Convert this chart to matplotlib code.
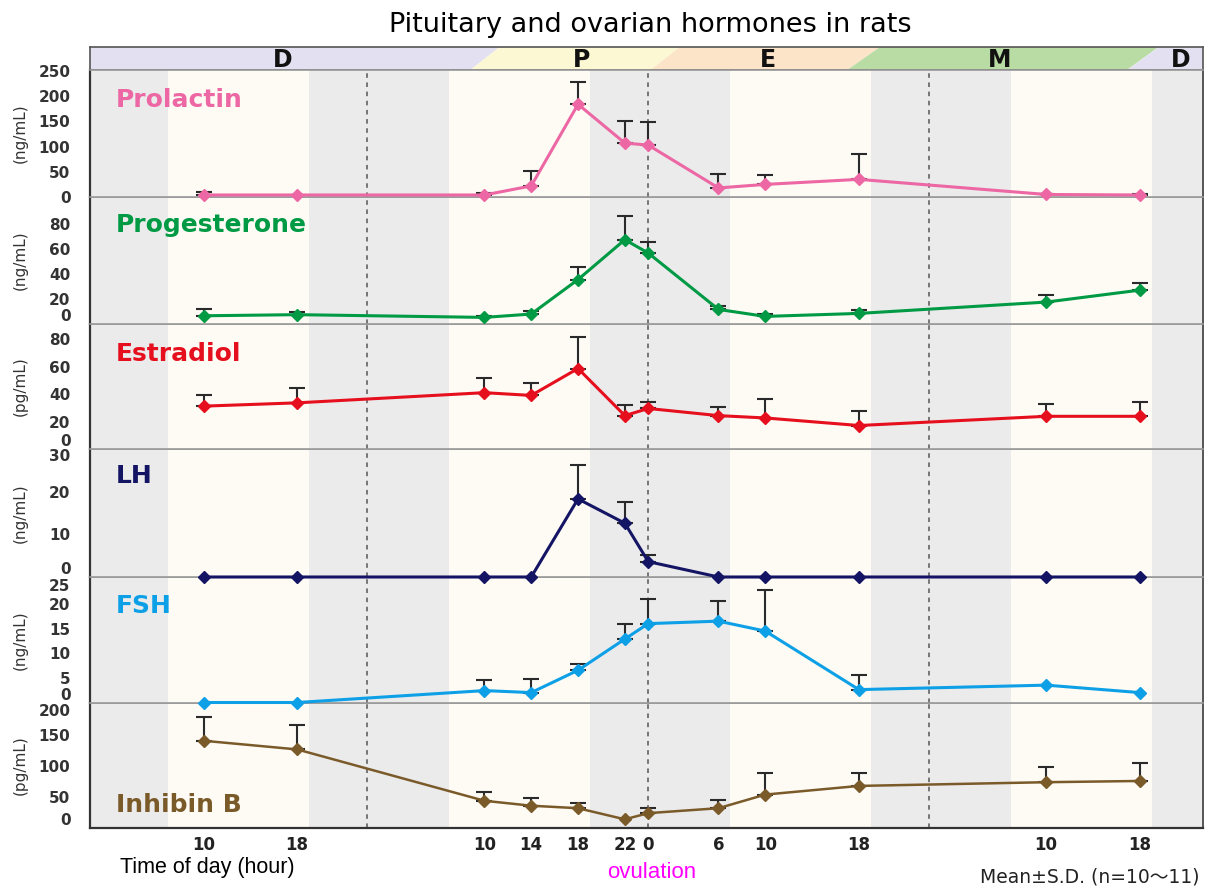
import numpy as np
import matplotlib.pyplot as plt
from matplotlib.patches import Polygon

# sampling times, hours counted from 0:00 of the first diestrus day
hours = [10, 18, 34, 38, 42, 46, 48, 54, 58, 66, 82, 90]
hour_labels = ['10', '18', '10', '14', '18', '22', '0', '6', '10', '18', '10', '18']

prolactin = [4, 4, 4, 22, 184, 107, 103, 18, 25, 35, 5, 4]
prolactin_sd = [5, 0, 3, 29, 44, 44, 46, 27, 18, 51, 1, 1]
progesterone = [6.6, 7.5, 5.3, 8, 35.7, 67.7, 57, 11.7, 6.1, 8.5, 17.6, 27.2]
progesterone_sd = [5.7, 2.4, 1.4, 2.7, 10.3, 19.3, 9, 3, 1.9, 2.7, 5.4, 5.8]
estradiol = [31.2, 33.6, 41, 39, 58.6, 24.3, 29.5, 24.3, 22.6, 17.1, 23.8, 23.8]
estradiol_sd = [8.4, 10.6, 11, 9, 23.1, 7.7, 4.5, 6.2, 13.7, 10.5, 9.2, 10.6]
lh = [0, 0, 0, 0, 18.3, 12.6, 3.6, 0, 0, 0, 0, 0]
lh_sd = [0, 0, 0, 0, 7.9, 4.9, 1.5, 0, 0, 0, 0, 0]
fsh = [0.1, 0.1, 2.5, 2.1, 6.6, 12.9, 16, 16.5, 14.5, 2.7, 3.6, 2.1]
fsh_sd = [0, 0, 2.2, 2.8, 1.3, 3, 4.9, 4, 8.3, 3, 0, 0]
inhibin = [141, 127, 44, 36, 32, 14, 24, 32, 54, 68, 74, 76]
inhibin_sd = [39, 40, 14, 13, 9, 0, 8, 13, 35, 21, 24, 29]

names = ['Prolactin', 'Progesterone', 'Estradiol', 'LH', 'FSH', 'Inhibin B']
units = ['(ng/mL)', '(ng/mL)', '(pg/mL)', '(ng/mL)', '(ng/mL)', '(pg/mL)']
colors = ['#ec67a3', '#009a44', '#e60f1e', '#141465', '#0ea0e6', '#7b5a2a']
means = [prolactin, progesterone, estradiol, lh, fsh, inhibin]
sds = [prolactin_sd, progesterone_sd, estradiol_sd, lh_sd, fsh_sd, inhibin_sd]
yticks = [[0, 50, 100, 150, 200, 250], [0, 20, 40, 60, 80], [0, 20, 40, 60, 80],
          [0, 10, 20, 30], [0, 5, 10, 15, 20, 25], [0, 50, 100, 150, 200]]
ytops = [252, 102, 91, 30, 25.4, 202]
name_y = [0.76, 0.78, 0.76, 0.79, 0.77, 0.18]

# dark periods (lights off) and midnights
dark = [(0, 7), (19, 31), (43, 55), (67, 79), (91, 96)]
midnights = [24, 48, 72]

# cycle stages in the top band: label, centre, colour
stages = ['D', 'P', 'E', 'M', 'D']
stage_x = [16.8, 42.3, 58.2, 78.0, 93.5]
stage_colors = ['#e3e1f1', '#fcf8d4', '#fce4c8', '#b8dca4', '#e3e1f1']
# slanted borders: (bottom, top)
stage_edges = [(32.8, 35.3), (48.2, 50.7), (65.0, 67.8), (88.9, 91.6)]

xlim = (0.3, 95.4)
W, H = 1214, 889
fig = plt.figure(figsize=(W / 100, H / 100), dpi=100)

left, right = 90 / W, 1203 / W
bounds = [70, 197, 324, 449, 577, 703, 828]

# top stage band
band = fig.add_axes([left, 1 - 70 / H, right - left, 23 / H])
band.set_xlim(*xlim)
band.set_ylim(0, 1)
edges = [(xlim[0], xlim[0])] + stage_edges + [(xlim[1], xlim[1])]
for i in range(len(stages)):
    b0, t0 = edges[i]
    b1, t1 = edges[i + 1]
    band.add_patch(Polygon([(b0, 0), (b1, 0), (t1, 1), (t0, 1)],
                           closed=True, facecolor=stage_colors[i], edgecolor='none'))
    band.text(stage_x[i], 0.45, stages[i], ha='center', va='center',
              fontsize=17, fontweight='heavy', color='#111')
band.set_xticks([])
band.set_yticks([])
for s in band.spines.values():
    s.set_color('#555')
    s.set_linewidth(1.2)

axes = []
for i in range(6):
    top, bot = bounds[i], bounds[i + 1]
    ax = fig.add_axes([left, 1 - bot / H, right - left, (bot - top) / H])
    ax.set_zorder(10 - i)
    axes.append(ax)
    ax.set_facecolor('#fdfbf4')
    for a, b in dark:
        ax.axvspan(a, b, color='#ebebec', lw=0, zorder=0)
    for m in midnights:
        ax.axvline(m, color='#555', lw=1.1, ls=(0, (3, 3)), zorder=1)

    y = np.array(means[i], dtype=float)
    e = np.array(sds[i], dtype=float)
    x = np.array(hours, dtype=float)
    mask = e > 0
    ax.errorbar(x[mask], y[mask], yerr=[np.zeros(mask.sum()), e[mask]], fmt='none',
                ecolor='#2a2a2a', elinewidth=1.5, capsize=6, capthick=1.5, zorder=2)
    ax.plot(x, y, color=colors[i], lw=2.2 if i < 5 else 1.8, marker='D', ms=6,
            zorder=3, clip_on=False)

    ax.set_xlim(*xlim)
    ax.set_ylim(0, ytops[i])
    ax.set_yticks(yticks[i])
    ax.set_yticklabels([str(t) for t in yticks[i]], fontsize=11, fontweight='bold', color='#333')
    ax.tick_params(axis='y', length=0, pad=14)
    ax.tick_params(axis='x', length=0)
    ticks = ax.yaxis.get_major_ticks()
    if 0 < i:
        ticks[0].label1.set_va('bottom')
    if i >= 3:
        ticks[-1].label1.set_va('top')

    ax.text(0.023, name_y[i], names[i], transform=ax.transAxes, color=colors[i],
            fontsize=18, fontweight='heavy', va='center', ha='left')
    fig.text(20 / W, 1 - (top + bot) / 2 / H, units[i], rotation=90, ha='center',
             va='center', fontsize=11, color='#333')

    ax.spines['left'].set_color('#333')
    ax.spines['left'].set_linewidth(1.6)
    ax.spines['right'].set_color('#555')
    ax.spines['right'].set_linewidth(1.4)
    ax.spines['top'].set_color('#999')
    ax.spines['bottom'].set_color('#999')
    ax.spines['top'].set_linewidth(1.2)
    ax.spines['bottom'].set_linewidth(1.2)
    if i < 5:
        ax.set_xticks([])
    else:
        ax.set_xticks(hours)
        ax.set_xticklabels(hour_labels, fontsize=12, fontweight='bold', color='#222')
        ax.tick_params(axis='x', pad=6)
        ax.spines['bottom'].set_color('#333')
        ax.spines['bottom'].set_linewidth(1.6)

fig.text(650 / W, 1 - 25 / H, 'Pituitary and ovarian hormones in rats', ha='center',
         va='center', fontsize=19.5)
fig.text(120 / W, 1 - 868 / H, 'Time of day (hour)', ha='left', va='center',
         fontsize=15.5, family='Liberation Sans')
fig.text(652 / W, 1 - 873 / H, 'ovulation', ha='center', va='center', fontsize=16,
         color='#ff00ff', family='Liberation Sans')
fig.text(1200 / W, 1 - 877 / H, 'Mean\u00b1S.D. (n=10\u301c11)', ha='right', va='center',
         fontsize=13.5, color='#222', family=['DejaVu Sans', 'Noto Sans CJK JP'])

fig.savefig('out.png', dpi=100)
